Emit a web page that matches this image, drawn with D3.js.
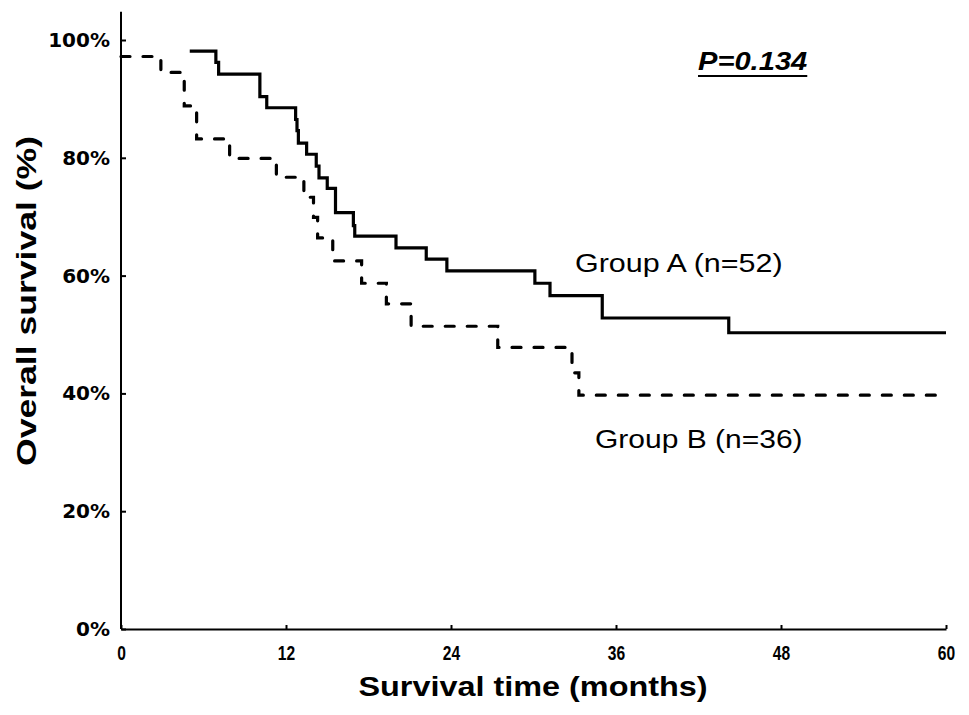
<!DOCTYPE html>
<html>
<head>
<meta charset="utf-8">
<script src="https://cdn.jsdelivr.net/npm/d3@7"></script>
<style>
  html, body { margin: 0; padding: 0; background: #fff; }
  svg { display: block; }
</style>
</head>
<body>
<svg id="chart" width="969" height="715"></svg>
<script>
// ---- data ----
const timesA = [5.0, 6.9, 7.1, 10.1, 10.6, 12.7, 12.8, 12.9, 13.5, 14.2, 14.4, 15.0, 15.6, 16.9, 17.0, 20.0, 22.2, 23.7, 30.1, 31.2, 35.0, 44.2, 60];
const survA  = [98.1, 96.2, 94.2, 90.4, 88.5, 86.5, 84.6, 82.5, 80.6, 78.6, 76.6, 74.8, 70.7, 68.5, 66.7, 64.7, 62.8, 60.8, 58.7, 56.6, 52.8, 50.3, 50.3];
const timesB = [0, 2.9, 4.6, 5.5, 7.9, 11.3, 13.3, 14.0, 14.3, 15.4, 17.5, 19.3, 21.1, 27.4, 32.8, 33.3, 60];
const survB  = [97.2, 94.5, 88.8, 83.2, 79.9, 76.7, 73.3, 69.9, 66.4, 62.5, 58.7, 55.2, 51.4, 47.8, 43.5, 39.7, 39.7];
const xTicks = [0, 12, 24, 36, 48, 60];
const yTicks = [0, 20, 40, 60, 80, 100];
const yAxisTopValue = 104.8;
const labelA = "Group A (n=52)";
const labelB = "Group B (n=36)";
const pText = "P=0.134";
const xTitle = "Survival time (months)";
const yTitle = "Overall survival (%)";

const svg = d3.select("#chart");
const x = d3.scaleLinear().domain([0, 60]).range([121, 946]);
const y = d3.scaleLinear().domain([0, 100]).range([629, 40]);

// axes
const gx = svg.append("g").attr("transform", `translate(0,${y(0)})`)
  .call(d3.axisBottom(x).tickValues(xTicks).tickSizeInner(-4).tickSizeOuter(0).tickPadding(17));
gx.attr("font-size", null).attr("font-family", null);
gx.select(".domain").attr("stroke", "#000").attr("stroke-width", 2);
gx.selectAll(".tick line").attr("stroke", "#000").attr("stroke-width", 2);
gx.selectAll(".tick text")
  .style("font-family", "'Liberation Sans', Arial, sans-serif")
  .style("font-size", "20px").style("font-weight", "bold").attr("fill", "#000")
  .attr("dy", "0.72em")
  .attr("transform", "scale(0.78,1)");

const gy = svg.append("g").attr("transform", `translate(${x(0)},0)`)
  .call(d3.axisLeft(y).tickValues(yTicks).tickFormat(d => d + "%").tickSizeInner(-5).tickSizeOuter(0).tickPadding(11));
gy.attr("font-size", null).attr("font-family", null);
gy.select(".domain").remove();
gy.selectAll(".tick line").attr("stroke", "#000").attr("stroke-width", 2);
gy.selectAll(".tick text")
  .style("font-family", "'DejaVu Sans', sans-serif")
  .style("font-weight", "bold")
  .style("font-size", "20px").attr("fill", "#000");
gy.append("line").attr("x1", 0).attr("x2", 0)
  .attr("y1", y(0)).attr("y2", y(yAxisTopValue))
  .attr("stroke", "#000").attr("stroke-width", 2);

// curves
const line = d3.line().x(d => x(d[0])).y(d => y(d[1])).curve(d3.curveStepAfter);
const dataA = timesA.map((t, i) => [t, survA[i]]);
const dataB = timesB.map((t, i) => [t, survB[i]]);

svg.append("path").datum(dataB).attr("d", line)
  .attr("fill", "none").attr("stroke", "#000").attr("stroke-width", 3.2)
  .attr("stroke-dasharray", "9,13").attr("stroke-linecap", "round");
svg.append("path").datum(dataA).attr("d", line)
  .attr("fill", "none").attr("stroke", "#000").attr("stroke-width", 3.2)
  .attr("stroke-linejoin", "miter").attr("stroke-linecap", "butt");

// labels
svg.append("text").text(labelA)
  .attr("transform", "translate(575,272) scale(1.22,1)")
  .attr("font-family", "Liberation Sans, Arial, sans-serif").attr("font-size", 25).attr("fill", "#000");
svg.append("text").text(labelB)
  .attr("transform", "translate(595,447.5) scale(1.2,1)")
  .attr("font-family", "Liberation Sans, Arial, sans-serif").attr("font-size", 25).attr("fill", "#000");

const pt = svg.append("text").text(pText)
  .attr("transform", "translate(698,70) scale(1.12,1)")
  .attr("font-family", "Liberation Sans, Arial, sans-serif").attr("font-size", 26)
  .attr("font-weight", "bold").attr("font-style", "italic").attr("fill", "#000");
const pw = pt.node().getComputedTextLength() * 1.12;
svg.append("line").attr("x1", 698).attr("x2", 698 + pw).attr("y1", 76).attr("y2", 76)
  .attr("stroke", "#000").attr("stroke-width", 2.2);

svg.append("text").text(xTitle)
  .attr("transform", "translate(533,696) scale(1.2,1)")
  .attr("text-anchor", "middle")
  .attr("font-family", "Liberation Sans, Arial, sans-serif").attr("font-size", 27)
  .attr("font-weight", "bold").attr("fill", "#000");

svg.append("text").text(yTitle)
  .attr("transform", "translate(36,301) rotate(-90) scale(1.27,1)")
  .attr("text-anchor", "middle")
  .attr("font-family", "Liberation Sans, Arial, sans-serif").attr("font-size", 28)
  .attr("font-weight", "bold").attr("fill", "#000");
</script>
</body>
</html>
